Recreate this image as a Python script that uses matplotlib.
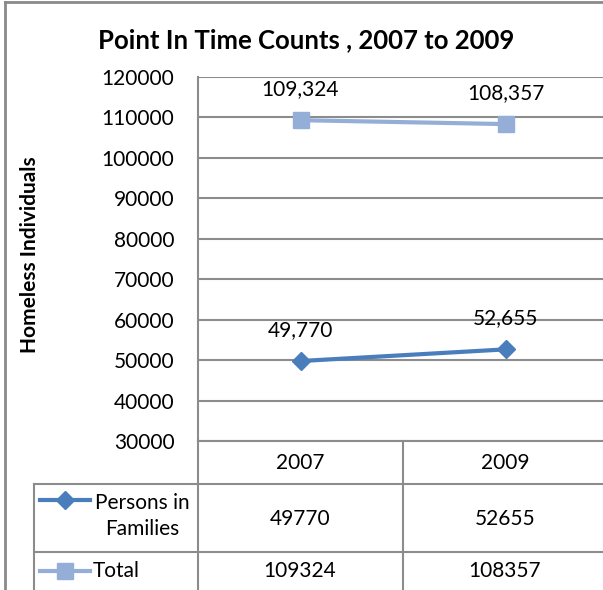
import numpy as np
import matplotlib.pyplot as plt
from matplotlib.lines import Line2D

plt.rcParams['font.family'] = ['Lato', 'DejaVu Sans']

years = ['2007', '2009']
families = [49770, 52655]
total = [109324, 108357]
series_names = ['Persons in\nFamilies', 'Total']
title = 'Point In Time Counts , 2007 to 2009'
ylabel = 'Homeless Individuals'

W, H = 603, 590
fam_color = '#4A7DBB'
tot_color = '#95AED8'
grid_color = '#8C8C8C'

fig = plt.figure(figsize=(W / 100, H / 100), dpi=100)

# plot area in pixel coords (left, top, right, bottom)
L, T, R, B = 198, 77, 608, 441
ax = fig.add_axes([L / W, 1 - B / H, (R - L) / W, (B - T) / H])

x = np.arange(len(years))
ax.plot(x, total, color=tot_color, lw=3, marker='s', ms=12, mec=tot_color, mfc=tot_color)
ax.plot(x, families, color=fam_color, lw=3, marker='D', ms=9, mec=fam_color, mfc=fam_color)

for xi, v in zip(x, total):
    ax.annotate(f'{v:,}', (xi, v), xytext=(0, 15), textcoords='offset points',
                ha='center', va='bottom', fontsize=15)
for xi, v in zip(x, families):
    ax.annotate(f'{v:,}', (xi, v), xytext=(0, 15), textcoords='offset points',
                ha='center', va='bottom', fontsize=15)

ax.set_xlim(-0.5, 1.5)
ax.set_ylim(30000, 120000)
ax.set_yticks(np.arange(30000, 120001, 10000))
ax.set_yticklabels([str(v) for v in range(30000, 120001, 10000)], fontsize=15)
ax.tick_params(axis='y', length=0, pad=17)
ax.set_xticks([])
ax.grid(axis='y', color=grid_color, lw=1.5)
ax.set_axisbelow(True)
for s in ['top', 'right', 'bottom']:
    ax.spines[s].set_visible(False)
ax.spines['left'].set_color(grid_color)
ax.spines['left'].set_linewidth(1.5)


def px(xp, yp):
    return xp / W, 1 - yp / H


def hline(y, x0, x1, c=grid_color, lw=1.5):
    fig.add_artist(Line2D([x0 / W, x1 / W], [1 - y / H, 1 - y / H], color=c, lw=lw,
                          transform=fig.transFigure))


def vline(xp, y0, y1, c=grid_color, lw=1.5):
    fig.add_artist(Line2D([xp / W, xp / W], [1 - y0 / H, 1 - y1 / H], color=c, lw=lw,
                          transform=fig.transFigure))


# data table
hline(441, 198, 610)
hline(484, 34, 610)
hline(552, 34, 610)
vline(198, 441, 600)
vline(403, 441, 600)
vline(34, 484, 600)

col_x = [300, 505]
for cx, yr in zip(col_x, years):
    fig.text(*px(cx, 463), yr, ha='center', va='center', fontsize=15)
for cx, v in zip(col_x, families):
    fig.text(*px(cx, 519), str(v), ha='center', va='center', fontsize=15)
for cx, v in zip(col_x, total):
    fig.text(*px(cx, 571), str(v), ha='center', va='center', fontsize=15)

# legend keys in table
fig.add_artist(Line2D([40 / W, 90 / W], [1 - 500 / H] * 2, color=fam_color, lw=3,
                      transform=fig.transFigure))
fig.add_artist(Line2D([65 / W], [1 - 500 / H], color=fam_color, marker='D', ms=9,
                      transform=fig.transFigure))
fig.add_artist(Line2D([40 / W, 90 / W], [1 - 571 / H] * 2, color=tot_color, lw=3,
                      transform=fig.transFigure))
fig.add_artist(Line2D([65 / W], [1 - 571 / H], color=tot_color, marker='s', ms=12,
                      transform=fig.transFigure))
fig.text(*px(142, 516), series_names[0], ha='center', va='center', fontsize=15,
         linespacing=1.35)
fig.text(*px(93, 571), series_names[1], ha='left', va='center', fontsize=15)

fig.text(*px(306, 40), title, ha='center', va='center', fontsize=18.5, fontweight='bold')
fig.text(*px(30, 255), ylabel, ha='center', va='center', rotation=90, fontsize=15,
         fontweight='bold')

# chart border
hline(2, 5, 603, c='#8A8A8A', lw=2)
vline(5, 2, 590, c='#8A8A8A', lw=2)

fig.savefig('out.png', dpi=100)
